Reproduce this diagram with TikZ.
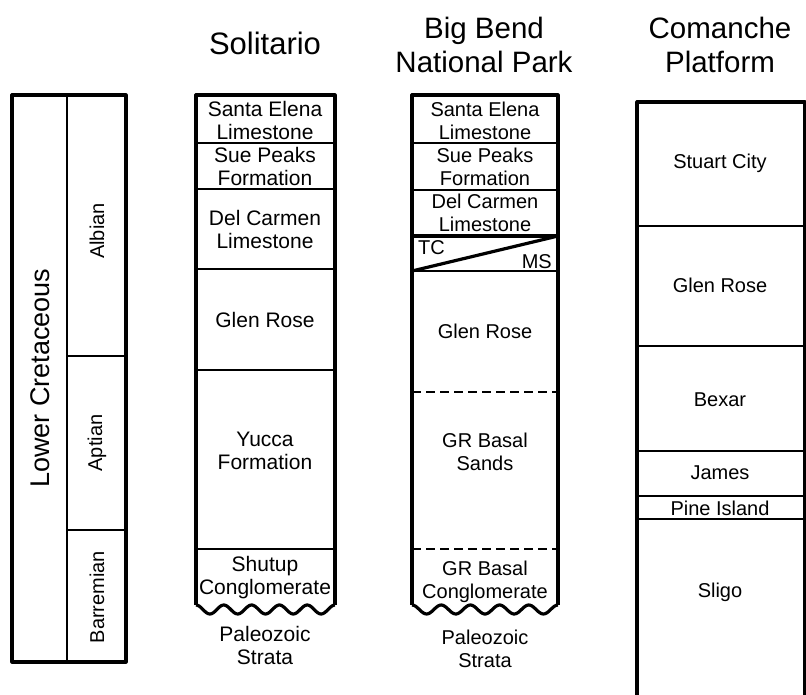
\documentclass[tikz,border=0pt]{standalone}
\usepackage{fontspec}
\setmainfont{Liberation Sans}
\begin{document}
\begin{tikzpicture}[x=1pt,y=-1pt,
  outer/.style={line width=3.2pt, line join=round},
  inner/.style={line width=2.7pt},
  dashline/.style={line width=2.7pt, dash pattern=on 9pt off 5pt},
  lbl/.style={font=\fontsize{20}{23}\selectfont, align=center, inner sep=0pt},
  lbls/.style={font=\fontsize{21}{23}\selectfont, align=center, inner sep=0pt},
  ttl/.style={font=\fontsize{29.5}{34}\selectfont, align=center, inner sep=0pt}]
\useasboundingbox (0,0) rectangle (806,695);

% ---------- Left age column ----------
\draw[outer] (12,95) rectangle (126,662);
\draw[inner] (67,95) -- (67,662);
\draw[inner] (67,356) -- (126,356);
\draw[inner] (67,530) -- (126,530);
\node[lbl, font=\fontsize{27}{30}\selectfont, rotate=90] (lc) at (40,378) {Lower Cretaceous};
\node[lbl, rotate=90] (alb) at (97,231) {Albian};
\node[lbl, rotate=90] (apt) at (97,443) {Aptian};
\node[lbl, rotate=90] (bar) at (97,597) {Barremian};

% ---------- Solitario ----------
\node[ttl, font=\fontsize{31}{34}\selectfont] (tsol) at (265,43) {Solitario};
\draw[outer] (196,605) -- (196,95) -- (335,95) -- (335,605);
\draw[outer] plot[domain=0:1, samples=90, smooth] ({196+139*\x},{609.5-4.5*cos(1800*\x)});
\draw[inner] (196,143) -- (335,143);
\draw[inner] (196,189) -- (335,189);
\draw[inner] (196,269) -- (335,269);
\draw[inner] (196,370) -- (335,370);
\draw[inner] (196,549) -- (335,549);
\node[lbls] (s1) at (265,120) {Santa Elena\\Limestone};
\node[lbls] (s2) at (265,166) {Sue Peaks\\Formation};
\node[lbls] (s3) at (265,229) {Del Carmen\\Limestone};
\node[lbls] (s4) at (265,320) {Glen Rose};
\node[lbls] (s5) at (265,451) {Yucca\\Formation};
\node[lbls] (s6) at (265,578) {Shutup\\Conglomerate};
\node[lbls] (s7) at (265,645) {Paleozoic\\Strata};

% ---------- Big Bend ----------
\node[ttl] (tbb) at (484,45) {Big Bend\\National Park};
\draw[outer] (412,605) -- (412,95) -- (558,95) -- (558,605);
\draw[outer] plot[domain=0:1, samples=90, smooth] ({412+146*\x},{609.5-4.5*cos(1800*\x)});
\draw[inner] (412,143) -- (558,143);
\draw[inner] (412,190) -- (558,190);
\draw[outer] (412,236) -- (558,236);
\draw[outer] (412,271) -- (558,236);
\draw[inner] (412,271) -- (558,271);
\draw[dashline] (412,392) -- (558,392);
\draw[dashline] (412,549) -- (558,549);
\node[lbl] (b1) at (485,121) {Santa Elena\\Limestone};
\node[lbl] (b2) at (485,167) {Sue Peaks\\Formation};
\node[lbl] (b3) at (485,213) {Del Carmen\\Limestone};
\node[lbl, anchor=west] (btc) at (418,248) {TC};
\node[lbl, anchor=east] (bms) at (552,262) {MS};
\node[lbl] (b4) at (485,331) {Glen Rose};
\node[lbl] (b5) at (485,452) {GR Basal\\Sands};
\node[lbl] (b6) at (485,582) {GR Basal\\Conglomerate};
\node[lbl] (b7) at (485,649) {Paleozoic\\Strata};

% ---------- Comanche Platform ----------
\node[ttl] (tcp) at (720,45) {Comanche\\Platform};
\draw[outer] (637,700) -- (637,102) -- (805,102) -- (805,700);
\draw[inner] (637,226) -- (805,226);
\draw[inner] (637,346) -- (805,346);
\draw[inner] (637,451) -- (805,451);
\draw[inner] (637,496) -- (805,496);
\draw[inner] (637,519) -- (805,519);
\node[lbl] (c1) at (720,163) {Stuart City};
\node[lbl] (c2) at (720,285) {Glen Rose};
\node[lbl] (c3) at (720,400) {Bexar};
\node[lbl] (c4) at (720,473) {James};
\node[lbl] (c5) at (720,508) {Pine Island};
\node[lbl] (c6) at (720,592) {Sligo};
\end{tikzpicture}
\end{document}
